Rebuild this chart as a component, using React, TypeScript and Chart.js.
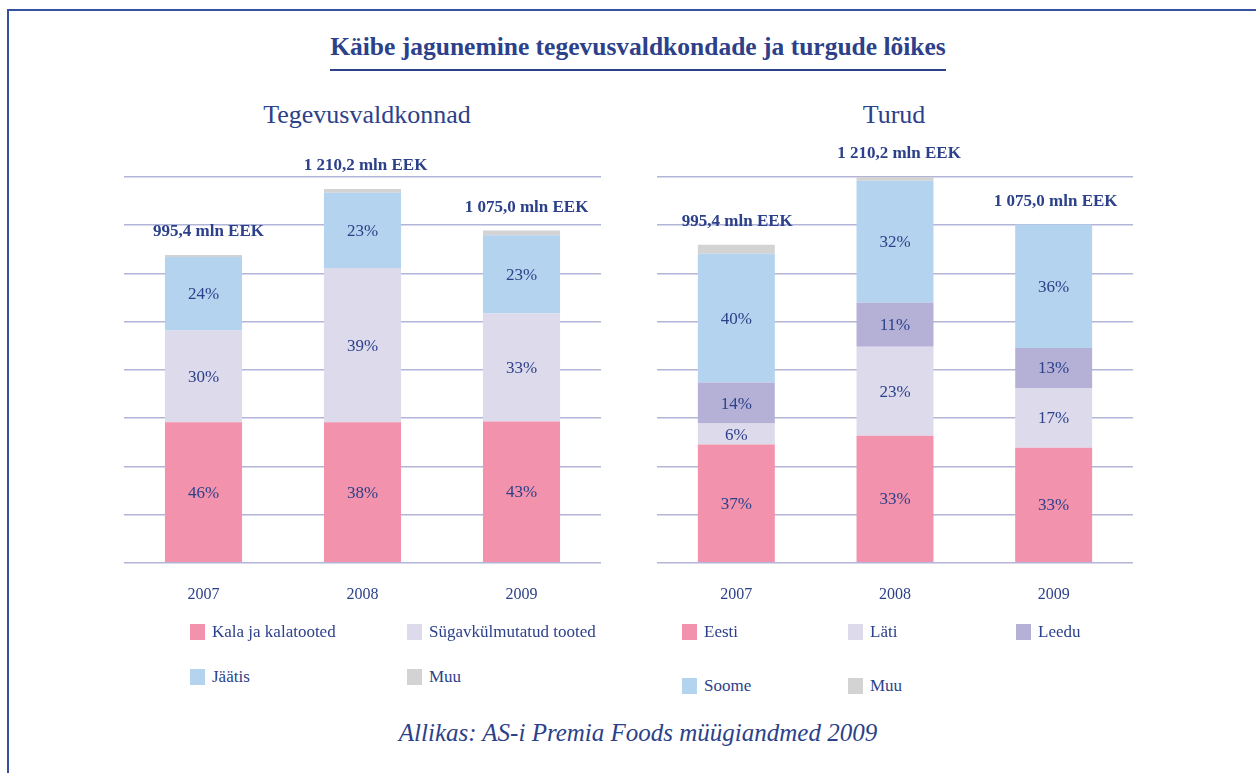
import React, { useEffect, useRef } from 'react';
import { Chart, registerables } from 'chart.js';

Chart.register(...registerables);

const FONT = '"Liberation Serif", "Times New Roman", serif';
const NAVY = '#2C4189';
const GRID = '#B2B4D8';
const PINK = '#F292AC';
const LILAC = '#DDDAEC';
const BLUE = '#B4D3EE';
const GRAY = '#D3D3D3';
const PURPLE = '#B5B1D6';

// Categories and totals
const years = ['2007', '2008', '2009'];
const totalLabels = ['995,4 mln EEK', '1 210,2 mln EEK', '1 075,0 mln EEK'];

// Left chart – Tegevusvaldkonnad (mln EEK)
const kala = [455, 455, 458];
const sygav = [298, 500, 350];
const jaatis = [238, 244, 253];
const muuLeft = [6, 12, 16];
const kalaPct = ['46%', '38%', '43%'];
const sygavPct = ['30%', '39%', '33%'];
const jaatisPct = ['24%', '23%', '23%'];
const leftAxisMax = 1250;

// Right chart – Turud (mln EEK)
const eesti = [371, 399, 361];
const lati = [66, 279, 188];
const leedu = [129, 138, 125];
const soome = [404, 383, 388];
const muuRight = [28, 12, 0];
const eestiPct = ['37%', '33%', '33%'];
const latiPct = ['6%', '23%', '17%'];
const leeduPct = ['14%', '11%', '13%'];
const soomePct = ['40%', '32%', '36%'];

function makeLabelPlugin(totals: string[], totalDx: number[]) {
  return {
    id: 'segLabels',
    afterDatasetsDraw(chart: any) {
      const ctx = chart.ctx;
      ctx.save();
      ctx.textAlign = 'center';
      ctx.textBaseline = 'middle';
      ctx.fillStyle = NAVY;
      ctx.font = `17px ${FONT}`;
      chart.data.datasets.forEach((ds: any, i: number) => {
        const labs = ds.pctLabels;
        if (!labs) return;
        const meta = chart.getDatasetMeta(i);
        meta.data.forEach((el: any, j: number) => {
          const p = el.getProps(['x', 'y', 'base'], true);
          ctx.fillText(labs[j], p.x, (p.y + p.base) / 2 + 1);
        });
      });
      const n = chart.data.datasets.length;
      const last = chart.getDatasetMeta(n - 1);
      ctx.font = `bold 17px ${FONT}`;
      last.data.forEach((el: any, j: number) => {
        const p = el.getProps(['x', 'y'], true);
        ctx.fillText(totals[j], p.x + totalDx[j], p.y - 23);
      });
      ctx.restore();
    },
  };
}

function buildConfig(datasets: any[], max: number, pad: any, totalDx: number[]) {
  return {
    type: 'bar',
    data: { labels: years, datasets },
    options: {
      animation: false,
      responsive: false,
      maintainAspectRatio: false,
      layout: { padding: pad },
      plugins: { legend: { display: false }, tooltip: { enabled: false } },
      datasets: { bar: { barPercentage: 0.485, categoryPercentage: 1 } },
      scales: {
        x: {
          stacked: true,
          grid: { display: false, drawTicks: false },
          border: { display: false },
          ticks: { color: NAVY, font: { size: 16, family: FONT }, padding: 22 },
        },
        y: {
          stacked: true,
          min: 0,
          max,
          ticks: { display: false, count: 9 },
          grid: { color: GRID, lineWidth: 1.5, drawTicks: false },
          border: { display: false },
        },
      },
    },
    plugins: [makeLabelPlugin(totalLabels, totalDx)],
  } as any;
}

function BarChart(props: { config: any; left: number; top: number; width: number; height: number }) {
  const ref = useRef<HTMLCanvasElement | null>(null);
  useEffect(() => {
    if (!ref.current) return;
    const c = new Chart(ref.current, props.config);
    return () => c.destroy();
  }, []);
  return (
    <canvas
      ref={ref}
      width={props.width}
      height={props.height}
      style={{ position: 'absolute', left: props.left, top: props.top, width: props.width, height: props.height, display: 'block' }}
    />
  );
}

function LegendItem(props: { color: string; label: string; x: number; y: number }) {
  return (
    <div style={{ position: 'absolute', left: props.x, top: props.y - 11, height: 22, display: 'flex', alignItems: 'center', whiteSpace: 'nowrap' }}>
      <span style={{ width: 15, height: 16, background: props.color, display: 'inline-block', marginRight: 7 }} />
      <span style={{ fontFamily: FONT, fontSize: 17, color: NAVY }}>{props.label}</span>
    </div>
  );
}

export default function App() {
  const leftDatasets = [
    { label: 'Kala ja kalatooted', data: kala, backgroundColor: PINK, pctLabels: kalaPct },
    { label: 'Sügavkülmutatud tooted', data: sygav, backgroundColor: LILAC, pctLabels: sygavPct },
    { label: 'Jäätis', data: jaatis, backgroundColor: BLUE, pctLabels: jaatisPct },
    { label: 'Muu', data: muuLeft, backgroundColor: GRAY },
  ];
  const rightDatasets = [
    { label: 'Eesti', data: eesti, backgroundColor: PINK, pctLabels: eestiPct },
    { label: 'Läti', data: lati, backgroundColor: LILAC, pctLabels: latiPct },
    { label: 'Leedu', data: leedu, backgroundColor: PURPLE, pctLabels: leeduPct },
    { label: 'Soome', data: soome, backgroundColor: BLUE, pctLabels: soomePct },
    { label: 'Muu', data: muuRight, backgroundColor: GRAY },
  ];
  const rightMax = Math.max(...years.map((_, i) => eesti[i] + lati[i] + leedu[i] + soome[i] + muuRight[i]));

  const leftCfg = buildConfig(leftDatasets, leftAxisMax, { left: 14, right: 19, top: 47, bottom: 18 }, [5, 3, 5]);
  const rightCfg = buildConfig(rightDatasets, rightMax, { left: 12, right: 12, top: 47, bottom: 18 }, [1, 4, 2]);

  return (
    <div style={{ position: 'fixed', left: 0, top: 0, width: 1256, height: 773, background: '#fff', overflow: 'hidden' }}>
      <div style={{ position: 'absolute', left: 8, top: 9, width: 1260, height: 0, borderTop: '2px solid #3551A0' }} />
      <div style={{ position: 'absolute', left: 7, top: 9, width: 0, height: 780, borderLeft: '2px solid #3551A0' }} />

      <div style={{ position: 'absolute', left: 0, top: 33, width: 1276, textAlign: 'center' }}>
        <span style={{ display: 'inline-block', fontFamily: FONT, fontWeight: 'bold', fontSize: 25.5, lineHeight: '28px', color: NAVY, paddingBottom: 8, borderBottom: `2px solid ${NAVY}` }}>
          Käibe jagunemine tegevusvaldkondade ja turgude lõikes
        </span>
      </div>

      <div style={{ position: 'absolute', left: 167, top: 99, width: 400, textAlign: 'center', fontFamily: FONT, fontSize: 26, lineHeight: '32px', color: NAVY }}>
        Tegevusvaldkonnad
      </div>
      <div style={{ position: 'absolute', left: 694, top: 99, width: 400, textAlign: 'center', fontFamily: FONT, fontSize: 26, lineHeight: '32px', color: NAVY }}>
        Turud
      </div>

      <BarChart config={leftCfg} left={110} top={130} width={510} height={514} />
      <BarChart config={rightCfg} left={645} top={130} width={500} height={514} />

      <LegendItem color={PINK} label="Kala ja kalatooted" x={190} y={632} />
      <LegendItem color={LILAC} label="Sügavkülmutatud tooted" x={407} y={632} />
      <LegendItem color={BLUE} label="Jäätis" x={190} y={677} />
      <LegendItem color={GRAY} label="Muu" x={407} y={677} />

      <LegendItem color={PINK} label="Eesti" x={682} y={632} />
      <LegendItem color={LILAC} label="Läti" x={848} y={632} />
      <LegendItem color={PURPLE} label="Leedu" x={1016} y={632} />
      <LegendItem color={BLUE} label="Soome" x={682} y={686} />
      <LegendItem color={GRAY} label="Muu" x={848} y={686} />

      <div style={{ position: 'absolute', left: 0, top: 717, width: 1276, textAlign: 'center', fontFamily: FONT, fontStyle: 'italic', fontSize: 25, lineHeight: '32px', color: NAVY }}>
        Allikas: AS-i Premia Foods müügiandmed 2009
      </div>
    </div>
  );
}
